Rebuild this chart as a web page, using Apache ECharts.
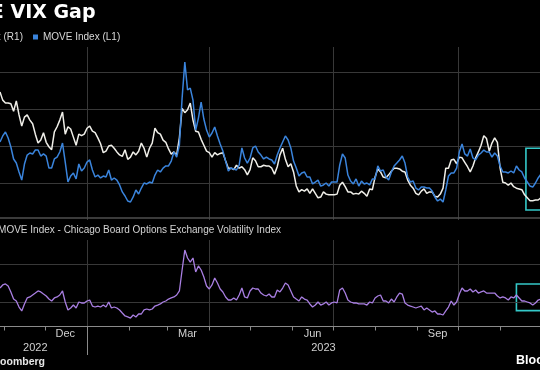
<!DOCTYPE html>
<html><head><meta charset="utf-8">
<script src="https://cdn.jsdelivr.net/npm/echarts@6/dist/echarts.min.js"></script>
<style>html,body{margin:0;padding:0;background:#000;overflow:hidden;width:540px;height:370px;}#chart{width:560px;height:370px;}</style>
</head><body><div id="chart"></div>
<script>
// ---- data (every 2 calendar days from startDate) ----
const startDate = '2022-10-29';
const stepDays = 2;
// plot area runs past the right edge of the 540px frame (chart is cropped there)
const xRange = ['2022-10-29T00:00:00', '2023-12-15T01:40:00'];

// VIX Index (R1)
const vixValues = [
27.3,26.2,25.8,25.8,25.7,24.7,26.1,24.2,22.7,23.9,
24.2,23.5,23.0,21.6,20.4,20.8,21.8,20.5,19.9,19.5,
21.9,22.6,23.5,24.6,21.6,22.6,22.3,21.2,20.1,21.6,
21.4,21.6,22.4,22.7,22.0,21.8,21.1,20.3,19.1,19.3,
20.0,20.1,19.7,19.2,18.8,18.6,19.5,18.2,18.5,19.2,
18.8,19.3,20.4,19.7,18.5,19.7,20.4,22.4,21.8,21.6,
20.8,20.5,19.6,18.9,19.2,18.8,21.1,25.1,24.5,24.9,
25.8,23.5,22.0,21.9,20.9,20.1,19.3,19.1,18.5,19.1,
18.8,19.0,19.1,18.0,17.0,17.0,16.8,17.4,17.0,17.2,
16.8,16.1,16.8,18.4,18.0,17.2,17.2,17.4,17.3,17.3,
17.0,16.2,17.2,18.8,19.7,18.2,17.2,17.6,16.5,14.6,
13.8,14.1,13.9,14.2,13.6,14.2,13.6,13.0,13.1,13.8,
13.5,13.4,13.4,13.4,13.5,14.7,15.1,14.5,13.8,13.8,
13.5,13.6,13.5,13.9,13.6,13.2,14.2,14.1,15.8,16.9,
16.5,15.8,15.7,16.1,16.6,17.0,17.0,16.9,16.6,16.5,
15.4,14.7,14.3,13.6,13.4,13.9,14.2,13.6,13.8,13.8,
13.2,13.1,13.5,14.3,17.0,17.0,18.1,18.2,17.6,18.5,
18.4,17.8,17.2,16.5,17.3,18.4,19.2,20.1,21.4,21.0,
19.3,20.4,21.1,20.5,17.0,15.1,15.0,14.7,15.0,14.5,
14.3,14.2,14.1,13.4,13.0,12.6,12.6,12.7,12.7,13.0];

// MOVE Index (L1)
const moveValues = [
142.9,147.2,150.0,145.7,139.3,130.7,127.8,121.4,115.6,127.1,
133.5,135.0,134.3,137.1,137.1,132.8,134.3,132.8,124.2,124.2,
130.7,132.1,135.7,142.1,128.5,114.2,118.5,120.7,116.4,127.1,
122.1,124.2,128.5,130.0,122.8,117.8,119.2,117.1,118.5,117.8,
122.8,115.6,117.1,115.6,112.1,107.1,104.2,100.6,99.9,103.5,
108.5,105.6,109.9,113.5,112.8,114.2,113.5,119.2,122.8,121.4,
124.2,125.7,125.7,129.2,135.7,132.1,140.7,174.4,200.1,180.1,
181.5,172.9,151.4,160.0,171.5,159.3,151.4,146.4,149.3,153.6,
147.2,141.4,136.4,129.2,122.1,124.2,123.5,122.8,126.4,138.6,
131.4,127.8,131.4,138.6,140.0,135.7,133.5,130.7,132.1,130.7,
130.0,127.1,133.5,138.6,142.9,147.2,144.3,138.6,129.2,124.2,
118.5,120.7,121.4,117.8,117.8,112.8,114.2,115.6,111.3,112.1,
113.5,111.3,114.2,114.2,114.2,126.4,134.3,131.4,119.2,114.9,
112.8,116.4,111.3,114.9,112.8,113.5,112.1,116.4,116.4,125.7,
122.1,122.8,117.8,115.6,121.4,125.7,127.8,130.0,132.8,127.8,
117.8,114.2,114.9,109.9,108.5,110.6,110.6,109.9,109.9,107.8,
103.5,100.6,102.0,99.9,108.5,118.5,120.7,120.7,124.2,135.7,
141.4,134.3,132.8,137.8,131.4,130.0,133.5,135.0,137.1,135.7,
135.7,132.1,135.0,132.8,125.7,121.4,121.4,120.7,122.1,120.7,
125.7,122.8,121.4,117.1,114.2,111.3,110.6,113.5,117.1,119.9];

// MOVE Index - VIX
const spreadValues = [
118.8,122.8,124.1,121.4,113.6,104.3,101.7,93.8,88.6,97.8,
105.7,107.0,109.6,112.2,114.9,113.6,110.9,108.3,104.3,101.7,
105.7,107.0,109.6,114.9,100.4,89.9,92.5,96.4,92.5,100.4,
99.1,99.1,101.7,103.0,95.1,93.8,95.1,93.8,96.4,93.8,
100.4,92.5,93.8,92.5,89.9,85.9,82.0,80.7,79.3,83.3,
80.7,84.6,84.6,89.9,91.2,89.9,91.2,95.1,96.4,97.8,
100.4,101.7,104.3,105.7,107.0,109.6,114.9,142.5,168.8,158.3,
153.0,158.3,139.9,147.8,142.5,133.3,121.4,117.5,122.8,132.0,
125.4,117.5,113.6,107.0,103.0,103.0,105.7,103.0,109.6,118.8,
107.0,105.7,114.9,118.8,117.5,117.5,112.2,109.6,108.3,110.9,
107.0,107.0,116.2,113.6,118.8,125.4,122.8,114.9,107.0,104.3,
101.7,107.0,104.3,103.0,97.8,93.8,96.4,100.4,96.4,97.8,
100.4,96.4,99.1,100.4,99.1,116.2,118.8,112.2,103.0,100.4,
99.1,99.1,97.8,97.8,97.8,96.4,100.4,99.1,105.7,108.3,
109.6,101.7,101.7,99.1,104.3,100.4,107.0,112.2,110.9,99.1,
96.4,95.1,93.8,92.5,93.8,95.1,89.9,92.5,89.9,87.2,
88.6,84.6,84.6,83.3,88.6,93.8,101.7,96.4,100.4,110.9,
118.8,114.9,114.9,117.5,113.6,116.2,112.2,113.6,114.9,112.2,
112.2,112.2,112.2,108.3,105.7,107.0,105.7,103.0,107.0,105.7,
109.6,105.7,101.7,101.7,100.4,99.1,96.4,99.1,103.0,104.3];

const quarterStarts = ['2023-01-01','2023-04-01','2023-07-01','2023-10-01'];
const monthStarts = ['2022-11-01','2022-12-01','2023-01-01','2023-02-01','2023-03-01','2023-04-01','2023-05-01','2023-06-01','2023-07-01','2023-08-01','2023-09-01','2023-10-01','2023-11-01','2023-12-01'];
const monthLabelDates = ['2022-12-16','2023-03-16','2023-06-16','2023-09-16'];
const monthLabelTexts = ['Dec','Mar','Jun','Sep'];
const yearLabelDates = ['2022-11-24','2023-06-24'];
const yearLabelTexts = ['2022','2023'];
const yearBreaks = ['2023-01-01'];
const spreadGridValues = [100, 150];
const vixBox = [['2023-11-20', 19.7], ['2024-01-31', 11.35]];
const spreadBox = [['2023-11-13', 124], ['2024-01-31', 89]];

// ---- build ----
const DAY = 864e5;
const ts = s => Date.parse(s.length > 10 ? s + 'Z' : s + 'T00:00:00Z');
const t0 = ts(startDate);
const dates = vixValues.map((_, i) => t0 + i * stepDays * DAY);
const pairs = vals => vals.map((v, i) => [dates[i], v]);
const xMin = ts(xRange[0]), xMax = ts(xRange[1]);

const labelMap = {};
monthLabelDates.forEach((d, i) => { labelMap[ts(d)] = monthLabelTexts[i]; });
yearLabelDates.forEach((d, i) => { labelMap[ts(d)] = '\n' + yearLabelTexts[i]; });

const GRID = '#383838';
const FONT = '"Liberation Sans", Arial, sans-serif';
const hiddenX = (gi, ticks, color, pos) => ({
  gridIndex: gi, type: 'value', min: xMin, max: xMax, position: pos,
  axisLine: {show: false}, axisTick: {show: false, customValues: ticks.map(ts)},
  axisLabel: {show: false}, splitLine: {show: true, lineStyle: {color: color, width: 1}}
});

const chart = echarts.init(document.getElementById('chart'), null, {renderer: 'canvas'});
chart.setOption({
  backgroundColor: '#000',
  animation: false,
  graphic: [
    {type: 'text', x: 95.5, y: 13, silent: true, style: {text: 'MOVE VIX Gap', align: 'right', verticalAlign: 'middle', fill: '#ffffff', font: 'bold 19px "DejaVu Sans", sans-serif'}},
    {type: 'text', x: 281, y: 230, silent: true, style: {text: 'MOVE Index - Chicago Board Options Exchange Volatility Index', align: 'right', verticalAlign: 'middle', fill: '#d4d4d4', font: '10px ' + FONT}},
    {type: 'text', x: 45, y: 362, silent: true, style: {text: 'Source: Bloomberg', align: 'right', verticalAlign: 'middle', fill: '#e6e6e6', font: 'bold 10.5px ' + FONT}},
    {type: 'text', x: 516, y: 360.5, silent: true, style: {text: 'Bloomberg', align: 'left', verticalAlign: 'middle', fill: '#ffffff', font: 'bold 12.5px ' + FONT}}
  ],
  legend: {
    data: ['VIX Index (R1)', 'MOVE Index (L1)'],
    left: -52.6, top: 32, padding: 0,
    icon: 'rect', itemWidth: 5, itemHeight: 5, itemGap: 10,
    textStyle: {color: '#d8d8d8', fontSize: 10, fontFamily: FONT},
    selectedMode: false
  },
  grid: [
    {left: 0, width: 560, top: 47, height: 173},
    {left: 0, width: 560, top: 240, height: 86.5},
    {left: 0, width: 560, top: 326.5, height: 28.5}
  ],
  xAxis: [
    Object.assign(hiddenX(0, quarterStarts, GRID, 'bottom'), {
      offset: -2, axisLine: {show: true, lineStyle: {color: '#4f4f4f', width: 1.6}}}),
    {gridIndex: 1, type: 'value', min: xMin, max: xMax, position: 'bottom',
     axisLine: {show: true, lineStyle: {color: '#8a8a8a', width: 1}},
     axisTick: {show: true, length: 4, customValues: monthStarts.map(ts), lineStyle: {color: '#8a8a8a'}},
     axisLabel: {show: true, customValues: monthLabelDates.concat(yearLabelDates).map(ts),
       formatter: v => labelMap[v] || '', margin: 0, lineHeight: 14.5,
       color: '#d0d0d0', fontSize: 11, fontFamily: FONT},
     splitLine: {show: false}},
    hiddenX(1, quarterStarts, GRID, 'top'),
    hiddenX(2, yearBreaks, '#8a8a8a', 'bottom')
  ],
  yAxis: [
    {gridIndex: 0, type: 'value', position: 'left', min: 87, max: 210.9, show: false},
    {gridIndex: 0, type: 'value', position: 'right', min: 10, max: 33.38, interval: 5,
     axisLine: {show: false}, axisTick: {show: false}, axisLabel: {show: false},
     splitLine: {show: true, showMinLine: false, showMaxLine: false, lineStyle: {color: GRID, width: 1}}},
    {gridIndex: 1, type: 'value', min: 68.16, max: 181.97, show: false},
    {gridIndex: 2, type: 'value', min: 0, max: 1, show: false}
  ],
  series: [
    {name: 'VIX Index (R1)', type: 'line', xAxisIndex: 0, yAxisIndex: 1, data: pairs(vixValues),
     showSymbol: false, symbol: 'none', color: '#f0efe9', lineStyle: {color: '#f0efe9', width: 1.5},
     markArea: {silent: true, itemStyle: {color: 'rgba(0,0,0,0)', borderColor: '#34c8c8', borderWidth: 1.6},
       data: [[{coord: [ts(vixBox[0][0]), vixBox[0][1]]}, {coord: [ts(vixBox[1][0]), vixBox[1][1]]}]]}},
    {name: 'MOVE Index (L1)', type: 'line', xAxisIndex: 0, yAxisIndex: 0, data: pairs(moveValues),
     showSymbol: false, symbol: 'none', color: '#3a84dc', lineStyle: {color: '#3a84dc', width: 1.5}},
    {name: 'MOVE - VIX', type: 'line', xAxisIndex: 1, yAxisIndex: 2, data: pairs(spreadValues),
     showSymbol: false, symbol: 'none', color: '#a97fe2', lineStyle: {color: '#a97fe2', width: 1.3},
     markLine: {silent: true, symbol: ['none', 'none'], z: 1, label: {show: false},
       lineStyle: {color: GRID, type: 'solid', width: 1},
       data: spreadGridValues.map(v => ({yAxis: v}))},
     markArea: {silent: true, itemStyle: {color: 'rgba(0,0,0,0)', borderColor: '#34c8c8', borderWidth: 1.6},
       data: [[{coord: [ts(spreadBox[0][0]), spreadBox[0][1]]}, {coord: [ts(spreadBox[1][0]), spreadBox[1][1]]}]]}}
  ]
});
</script></body></html>
